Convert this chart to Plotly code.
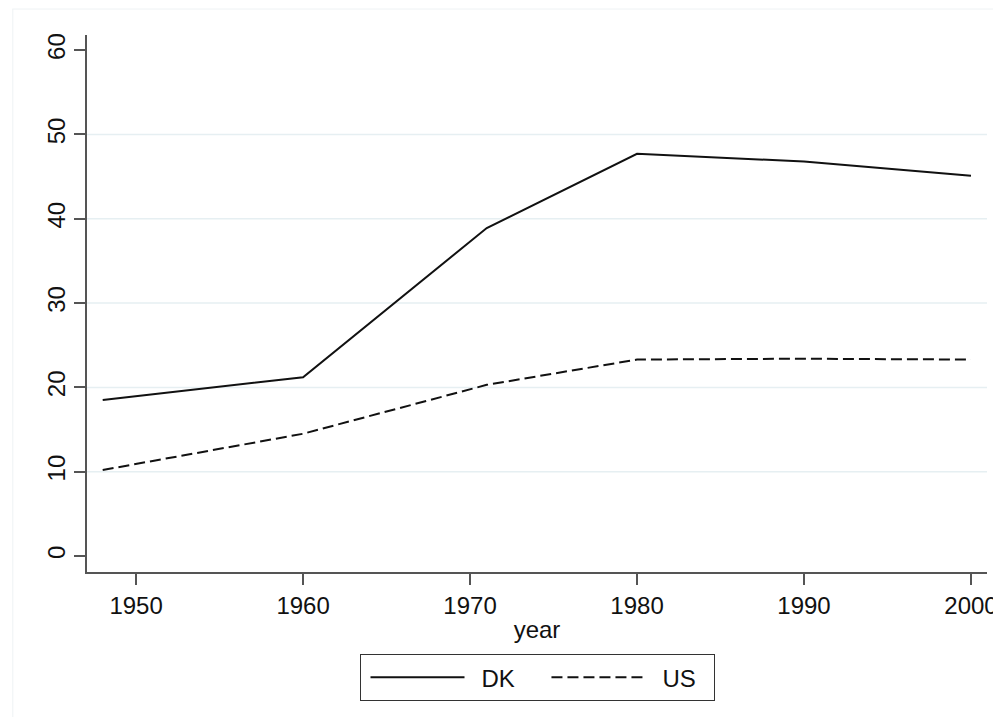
import plotly.graph_objects as go

years = [1948, 1960, 1971, 1980, 1990, 2000]
dk = [18.5, 21.2, 38.9, 47.7, 46.8, 45.1]
us = [10.2, 14.5, 20.3, 23.3, 23.4, 23.3]
x_ticks = [1950, 1960, 1970, 1980, 1990, 2000]
y_ticks = [0, 10, 20, 30, 40, 50, 60]
grid_vals = [10, 20, 30, 40, 50]
series_names = ["\u2002DK\u2002\u2009\u2009", "\u2002US\u2002"]

FONT = "Liberation Sans, Arial, sans-serif"

fig = go.Figure()
fig.add_trace(go.Scatter(x=years, y=dk, mode="lines", name=series_names[0],
                         line=dict(color="#111111", width=2, dash="solid")))
fig.add_trace(go.Scatter(x=years, y=us, mode="lines", name=series_names[1],
                         line=dict(color="#111111", width=2, dash="11px,5px")))

for g in grid_vals:
    fig.add_shape(type="line", xref="paper", x0=0, x1=1, yref="y", y0=g, y1=g,
                  line=dict(color="#e6eff2", width=1.5), layer="below")

# faint outer graph-region border
fig.add_shape(type="line", xref="paper", yref="paper", x0=-0.083, x1=1.2, y0=1.0484, y1=1.0484,
              line=dict(color="#eef2f4", width=1))
fig.add_shape(type="line", xref="paper", yref="paper", x0=-0.0824, x1=-0.0824, y0=1.0484, y1=-0.4,
              line=dict(color="#eef2f4", width=1))

fig.update_layout(
    width=993, height=709,
    margin=dict(l=79, r=14, t=27, b=145, autoexpand=False),
    plot_bgcolor="white", paper_bgcolor="white",
    font=dict(family=FONT, size=24, color="#111111"),
    showlegend=True,
    legend=dict(orientation="h", x=0.5, xanchor="center", y=-0.153, yanchor="top",
                bordercolor="#333333", borderwidth=1, itemwidth=94,
                indentation=5,
                font=dict(family=FONT, size=24, color="#111111"),
                itemclick=False),
    xaxis=dict(range=[1947.06, 2000.96], tickvals=x_ticks, showgrid=False, zeroline=False,
               automargin=False,
               showline=True, linecolor="#555555", linewidth=1.5,
               ticks="outside", ticklen=11, tickwidth=1.5, tickcolor="#555555",
               title=dict(text="year", standoff=4, font=dict(family=FONT, size=24))),
    yaxis=dict(range=[-1.9, 61.8], tickvals=y_ticks, showgrid=False, zeroline=False,
               automargin=False,
               showline=True, linecolor="#555555", linewidth=1.5,
               ticks="outside", ticklen=11, tickwidth=1.5, tickcolor="#555555",
               tickangle=-90),
)

fig.write_html("out.html")
